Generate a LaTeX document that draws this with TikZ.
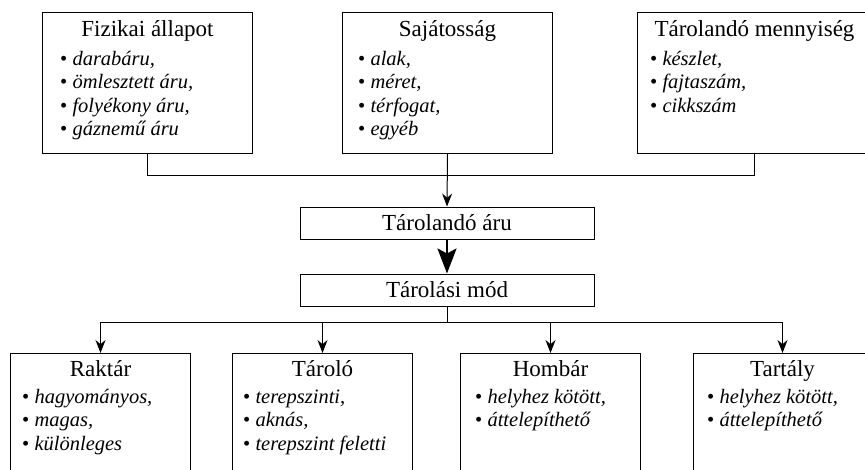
\documentclass[tikz,border=0pt]{standalone}
\usepackage{fontspec}
\setmainfont{Liberation Serif}
\usetikzlibrary{arrows.meta,positioning}

\begin{document}
\begin{tikzpicture}[x=1pt,y=-1pt]

\tikzset{>={Stealth[width=10pt,length=13pt]}}
\tikzset{doboz/.style={draw,line width=1pt,rectangle,anchor=north west,inner sep=0pt}}
\tikzset{cim/.style={font=\fontsize{23}{26}\selectfont,anchor=base,inner sep=0pt}}
\tikzset{lista/.style={font=\fontsize{20.5}{23.5}\selectfont,anchor=base west,inner sep=0pt}}
\tikzset{vonal/.style={line width=1pt}}

\useasboundingbox (0,0) rectangle (865,469);
\clip (0,0) rectangle (865,469);

% felso dobozok
\node at (42,12) [doboz,name=fizikai,minimum width=210pt,minimum height=141pt] {};
\node at ([yshift=-24pt]fizikai.north) [cim,name=fizikaicim] {Fizikai állapot};
\foreach \t [count=\i] in {{darabáru,},{ömlesztett áru,},{folyékony áru,},{gáznemű áru}}
  \node at ([xshift=18pt,yshift={-53pt-(\i-1)*23.5pt}]fizikai.north west) [lista,name=fizikai\i] {\textbullet~\textit{\t}};

\node at (342,12) [doboz,name=sajatossag,minimum width=210pt,minimum height=141pt] {};
\node at ([yshift=-24pt]sajatossag.north) [cim,name=sajatossagcim] {Sajátosság};
\foreach \t [count=\i] in {{alak,},{méret,},{térfogat,},{egyéb}}
  \node at ([xshift=16pt,yshift={-53pt-(\i-1)*23.5pt}]sajatossag.north west) [lista,name=sajatossag\i] {\textbullet~\textit{\t}};

\node at (637,12) [doboz,name=mennyiseg,minimum width=234pt,minimum height=141pt] {};
\node at ([yshift=-24pt]mennyiseg.north) [cim,name=mennyisegcim] {Tárolandó mennyiség};
\foreach \t [count=\i] in {{készlet,},{fajtaszám,},{cikkszám}}
  \node at ([xshift=13pt,yshift={-53pt-(\i-1)*23.5pt}]mennyiseg.north west) [lista,name=mennyiseg\i] {\textbullet~\textit{\t}};

%===================================================================
\node at (447,223) [draw,line width=1pt,rectangle,minimum width=294pt,minimum height=32pt,inner sep=0pt,font=\fontsize{23}{26}\selectfont,name=aru] {Tárolandó áru};
\node at (447,290) [draw,line width=1pt,rectangle,minimum width=294pt,minimum height=32pt,inner sep=0pt,font=\fontsize{23}{26}\selectfont,name=mod] {Tárolási mód};

\coordinate (gyujto) at (447,175.5);
\draw[vonal] (fizikai.south) |- (gyujto) -| (mennyiseg.south);
\draw[vonal,->] (sajatossag.south) -- (aru.north);
\draw[line width=2.6pt,-{Stealth[width=19pt,length=25pt,inset=5pt]}] (aru.south) -- (mod.north);

%===================================================================
% also dobozok
\node at (10,353) [doboz,name=raktar,minimum width=180pt,minimum height=130pt] {};
\node at ([yshift=-23pt]raktar.north) [cim,name=raktarcim] {Raktár};
\foreach \t [count=\i] in {{hagyományos,},{magas,},{különleges}}
  \node at ([xshift=12pt,yshift={-50pt-(\i-1)*23.5pt}]raktar.north west) [lista,name=raktar\i] {\textbullet~\textit{\t}};

\node at (232,353) [doboz,name=tarolo,minimum width=180pt,minimum height=130pt] {};
\node at ([yshift=-23pt]tarolo.north) [cim,name=tarolocim] {Tároló};
\foreach \t [count=\i] in {{terepszinti,},{aknás,},{terepszint feletti}}
  \node at ([xshift=11pt,yshift={-50pt-(\i-1)*23.5pt}]tarolo.north west) [lista,name=tarolo\i] {\textbullet~\textit{\t}};

\node at (460,353) [doboz,name=hombar,minimum width=180pt,minimum height=130pt] {};
\node at ([yshift=-23pt]hombar.north) [cim,name=hombarcim] {Hombár};
\foreach \t [count=\i] in {{helyhez kötött,},{áttelepíthető}}
  \node at ([xshift=15pt,yshift={-50pt-(\i-1)*23.5pt}]hombar.north west) [lista,name=hombar\i] {\textbullet~\textit{\t}};

\node at (693,353) [doboz,name=tartaly,minimum width=178pt,minimum height=130pt] {};
\node at ([yshift=-23pt]tartaly.north) [cim,name=tartalycim] {Tartály};
\foreach \t [count=\i] in {{helyhez kötött,},{áttelepíthető}}
  \node at ([xshift=14pt,yshift={-50pt-(\i-1)*23.5pt}]tartaly.north west) [lista,name=tartaly\i] {\textbullet~\textit{\t}};

\coordinate (eloszto) at (447,322);
\draw[vonal] (mod.south) -- (eloszto);
\draw[vonal,->] (eloszto) -| (raktar.north);
\draw[vonal,->] (eloszto) -| (tarolo.north);
\draw[vonal,->] (eloszto) -| (hombar.north);
\draw[vonal,->] (eloszto) -| (tartaly.north);

\end{tikzpicture}
\end{document}
